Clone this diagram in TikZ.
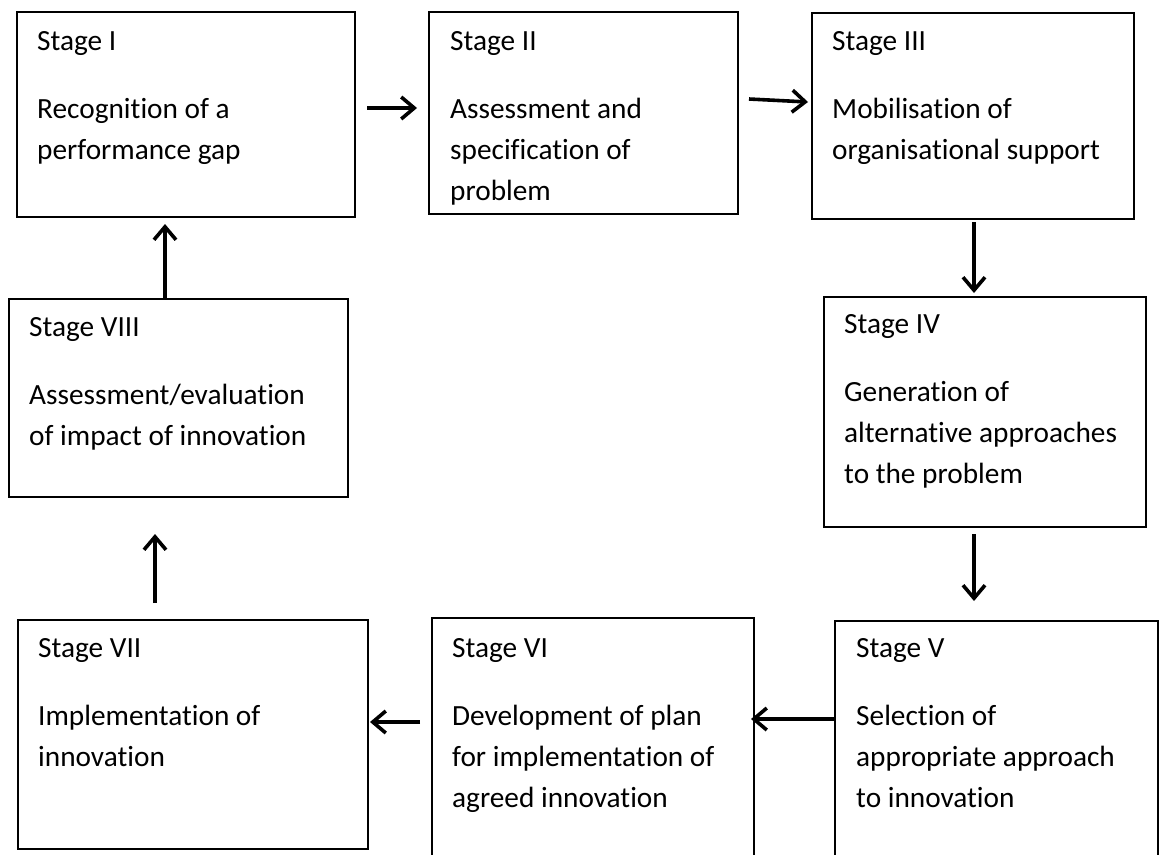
\documentclass[tikz,border=0pt]{standalone}
\usepackage{fontspec}
\setmainfont[Ligatures=NoCommon]{Carlito}
\usetikzlibrary{arrows.meta}

\tikzset{
  stagebox/.style={draw=black, line width=2pt, fill=none, rectangle,
    inner sep=0pt, anchor=north west},
  stagetext/.style={anchor=base west, inner sep=0pt, font=\fontsize{29.3}{41}\selectfont},
  flow/.style={line width=3.6pt, -{Straight Barb[length=13pt,width=22pt,line width=3.6pt]}}
}

% box text: heading line, then the description paragraph
\newcommand{\stagelabel}[2]{%
  \parbox[t]{330pt}{\raggedright\setlength{\parskip}{27pt}#1\par #2}}

\begin{document}
\begin{tikzpicture}[x=1pt, y=-1pt]
  \clip (0,0) rectangle (1166,854);
  \fill[white] (0,0) rectangle (1166,854);

  % boxes
  \node[stagebox, minimum width=338pt, minimum height=205pt] (s1) at (16,11) {};
  \node[stagebox, minimum width=309pt, minimum height=202pt] (s2) at (428,11) {};
  \node[stagebox, minimum width=322pt, minimum height=206pt] (s3) at (811,12) {};
  \node[stagebox, minimum width=322pt, minimum height=230pt] (s4) at (823,296) {};
  \node[stagebox, minimum width=323pt, minimum height=260pt] (s5) at (834,620) {};
  \node[stagebox, minimum width=322pt, minimum height=263pt] (s6) at (431,617) {};
  \node[stagebox, minimum width=350pt, minimum height=229pt] (s7) at (17,619) {};
  \node[stagebox, minimum width=339pt, minimum height=198pt] (s8) at (8,298) {};

  % texts
  \node[stagetext] (t1) at (37,50) {\stagelabel{Stage I}{Recognition of a\\performance gap}};
  \node[stagetext] (t2) at (450,50) {\stagelabel{Stage II}{Assessment and\\specification of\\problem}};
  \node[stagetext] (t3) at (832,50) {\stagelabel{Stage III}{Mobilisation of\\organisational support}};
  \node[stagetext] (t4) at (844,333) {\stagelabel{Stage IV}{Generation of\\alternative approaches\\to the problem}};
  \node[stagetext] (t5) at (856,657) {\stagelabel{Stage V}{Selection of\\appropriate approach\\to innovation}};
  \node[stagetext] (t6) at (452,657) {\stagelabel{Stage VI}{Development of plan\\for implementation of\\agreed innovation}};
  \node[stagetext] (t7) at (38,657) {\stagelabel{Stage VII}{Implementation of\\innovation}};
  \node[stagetext] (t8) at (29,336) {\stagelabel{Stage VIII}{Assessment/evaluation\\of impact of innovation}};

  % connectors
  \draw[flow] ([shift={(11,-6.5)}]s1.east) -- ([shift={(-11,-5)}]s2.west);
  \draw[flow] ([shift={(10,-14)}]s2.east) -- ([shift={(-3,-14)}]s3.west);
  \draw[flow] ([shift={(1,2)}]s3.south) -- ([shift={(-11,-3)}]s4.north);
  \draw[flow] ([shift={(-11,6)}]s4.south) -- ([shift={(-22.5,-19)}]s5.north);
  \draw[flow] ([shift={(0,-32)}]s5.west) -- ([shift={(-4,-30.5)}]s6.west -| s6.east);
  \draw[flow] ([shift={(-11,-27.5)}]s6.west) -- ([shift={(1,-12.5)}]s7.east);
  \draw[flow] ([shift={(-38,-16)}]s7.north) -- ([shift={(-23.5,36)}]s8.south);
  \draw[flow] ([shift={(-13.5,0)}]s8.north) -- ([shift={(-21,6)}]s1.south);
\end{tikzpicture}
\end{document}
